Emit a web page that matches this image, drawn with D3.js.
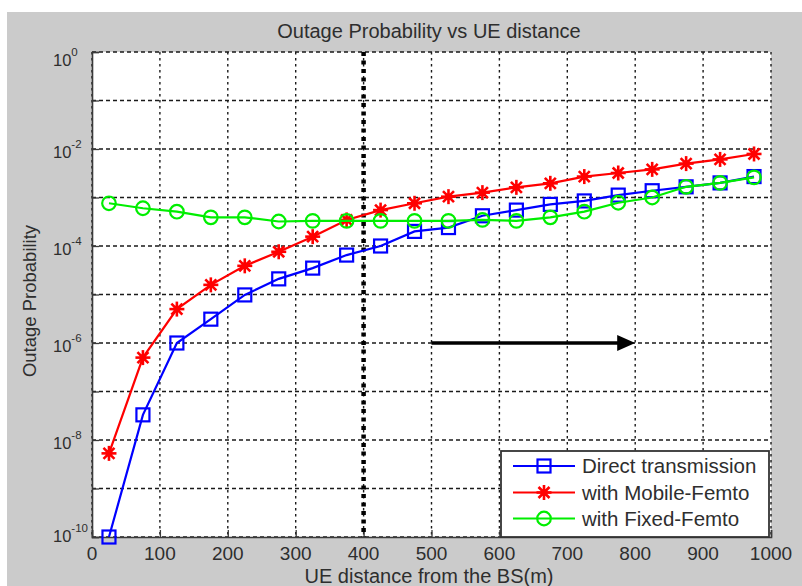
<!DOCTYPE html>
<html>
<head>
<meta charset="utf-8">
<script src="https://cdn.jsdelivr.net/npm/d3@7"></script>
<style>
  html, body { margin: 0; padding: 0; background: #ffffff; }
  svg { display: block; }
  text { font-family: "Liberation Sans", Arial, sans-serif; fill: #2e2e2e; }
</style>
</head>
<body>
<script>
// ---------------- data ----------------
const distances = [25, 75, 125, 175, 225, 275, 325, 375, 425, 475, 525, 575, 625, 675, 725, 775, 825, 875, 925, 975];
const directTransmission = [1e-10, 3.3e-8, 1e-6, 3.1e-6, 9.8e-6, 2.1e-5, 3.5e-5, 6.5e-5, 1.0e-4, 2.0e-4, 2.4e-4, 4.2e-4, 5.5e-4, 7.2e-4, 8.5e-4, 1.12e-3, 1.38e-3, 1.66e-3, 2.0e-3, 2.7e-3];
const mobileFemto = [5.3e-9, 5e-7, 5.0e-6, 1.58e-5, 3.9e-5, 7.6e-5, 1.56e-4, 3.45e-4, 5.5e-4, 7.6e-4, 1.04e-3, 1.26e-3, 1.62e-3, 1.96e-3, 2.7e-3, 3.2e-3, 3.8e-3, 5.0e-3, 6.1e-3, 7.9e-3];
const fixedFemto = [7.6e-4, 6.0e-4, 5.1e-4, 3.9e-4, 3.9e-4, 3.2e-4, 3.3e-4, 3.3e-4, 3.3e-4, 3.3e-4, 3.3e-4, 3.45e-4, 3.3e-4, 3.9e-4, 5.1e-4, 7.8e-4, 1.0e-3, 1.66e-3, 2.0e-3, 2.6e-3];
const seriesNames = ["Direct transmission", "with Mobile-Femto", "with Fixed-Femto"];
const xTicks = [0, 100, 200, 300, 400, 500, 600, 700, 800, 900, 1000];
const yLabelExponents = [0, -2, -4, -6, -8, -10];
const yGridExponents = [0, -1, -2, -3, -4, -5, -6, -7, -8, -9, -10];
const markerLineX = 400;          // thick dotted vertical marker
const arrowFrom = [500, 1e-6];    // arrow start (x, y)
const arrowTo = [800, 1e-6];      // arrow end (x, y)
const titleText = "Outage Probability vs UE distance";
const xLabelText = "UE distance from the BS(m)";
const yLabelText = "Outage Probability";

// ---------------- layout ----------------
const W = 802, H = 586;
const plot = { left: 92, right: 771, top: 52, bottom: 537 };

const svg = d3.select("body").append("svg").attr("width", W).attr("height", H);

// gray figure background
svg.append("rect").attr("x", 7).attr("y", 12).attr("width", W - 7).attr("height", H - 12).attr("fill", "#cbcbcb");

const x = d3.scaleLinear().domain([0, 1000]).range([plot.left, plot.right]);
const y = d3.scaleLog().domain([1e-10, 1]).range([plot.bottom, plot.top]);

// plot area
svg.append("rect").attr("x", plot.left).attr("y", plot.top)
  .attr("width", plot.right - plot.left).attr("height", plot.bottom - plot.top).attr("fill", "#ffffff");

// grid
const grid = svg.append("g");
grid.selectAll("line.v").data(xTicks).join("line")
  .attr("x1", d => x(d)).attr("x2", d => x(d))
  .attr("y1", plot.top).attr("y2", plot.bottom)
  .attr("stroke", "#1a1a1a").attr("stroke-width", 1.4).attr("stroke-dasharray", "2.5,3.5");
grid.selectAll("line.h").data(yGridExponents).join("line")
  .attr("x1", plot.left).attr("x2", plot.right)
  .attr("y1", d => y(Math.pow(10, d))).attr("y2", d => y(Math.pow(10, d)))
  .attr("stroke", "#1a1a1a").attr("stroke-width", 1.4).attr("stroke-dasharray", "4,3");

// axes (solid left and bottom) via d3 axes
const xAxis = d3.axisBottom(x).tickValues(xTicks).tickSize(-7).tickFormat("");
const gx = svg.append("g").attr("transform", `translate(0,${plot.bottom})`).call(xAxis);
gx.select(".domain").attr("stroke", "#3a3a3a").attr("stroke-width", 1.6);
gx.selectAll(".tick line").attr("stroke", "#3a3a3a").attr("stroke-width", 1.3);

const yAxis = d3.axisLeft(y).tickValues(yGridExponents.map(e => Math.pow(10, e))).tickSize(-7).tickFormat("");
const gy = svg.append("g").attr("transform", `translate(${plot.left},0)`).call(yAxis);
gy.select(".domain").attr("stroke", "#3a3a3a").attr("stroke-width", 1.6);
gy.selectAll(".tick line").attr("stroke", "#3a3a3a").attr("stroke-width", 1.3);

// x tick labels
svg.append("g").selectAll("text").data(xTicks).join("text")
  .attr("x", d => x(d)).attr("y", 560)
  .attr("text-anchor", "middle").attr("font-size", 19)
  .text(d => d);

// y tick labels (10^k); end labels nudged like the original figure
const yl = svg.append("g").selectAll("text").data(yLabelExponents).join("text")
  .attr("x", 53).attr("y", (d, i) => y(Math.pow(10, d)) + (i === 0 ? 14 : (i === yLabelExponents.length - 1 ? 5 : 9)))
  .attr("font-size", 16.5);
yl.append("tspan").text("10");
yl.append("tspan").attr("dy", -10).attr("font-size", 11.5).text(d => d);

// thick dotted vertical marker
svg.append("line")
  .attr("x1", x(markerLineX)).attr("x2", x(markerLineX))
  .attr("y1", plot.top).attr("y2", plot.bottom)
  .attr("stroke", "#000").attr("stroke-width", 4.5).attr("stroke-dasharray", "4,4.5");

// series
const series = [
  { name: seriesNames[0], values: directTransmission, color: "#0000ff", marker: "square" },
  { name: seriesNames[1], values: mobileFemto, color: "#ff0000", marker: "star" },
  { name: seriesNames[2], values: fixedFemto, color: "#00ee00", marker: "circle" }
];

function drawMarker(g, type, color) {
  if (type === "square") {
    g.append("rect").attr("x", -6.5).attr("y", -6.5).attr("width", 13).attr("height", 13)
      .attr("fill", "none").attr("stroke", color).attr("stroke-width", 2.2);
  } else if (type === "circle") {
    g.append("circle").attr("r", 6.8).attr("fill", "none").attr("stroke", color).attr("stroke-width", 2.2);
  } else {
    const s = 7.5, d = 5.5;
    [[-s, 0, s, 0], [0, -s, 0, s], [-d, -d, d, d], [-d, d, d, -d]].forEach(c => {
      g.append("line").attr("x1", c[0]).attr("y1", c[1]).attr("x2", c[2]).attr("y2", c[3])
        .attr("stroke", color).attr("stroke-width", 2.6);
    });
    g.append("circle").attr("r", 3.5).attr("fill", color);
  }
}

const line = d3.line().x(d => x(d[0])).y(d => y(d[1]));
series.forEach(s => {
  const pts = distances.map((dx, i) => [dx, s.values[i]]);
  svg.append("path").datum(pts).attr("d", line)
    .attr("fill", "none").attr("stroke", s.color).attr("stroke-width", 2.2);
  svg.append("g").selectAll("g").data(pts).join("g")
    .attr("transform", d => `translate(${x(d[0])},${y(d[1])})`)
    .each(function () { drawMarker(d3.select(this), s.marker, s.color); });
});

// arrow
svg.append("line")
  .attr("x1", x(arrowFrom[0])).attr("y1", y(arrowFrom[1]))
  .attr("x2", x(arrowTo[0]) - 8).attr("y2", y(arrowTo[1]))
  .attr("stroke", "#000").attr("stroke-width", 3.5);
svg.append("path")
  .attr("d", d3.line()([[x(arrowTo[0]) - 18, y(arrowTo[1]) - 8], [x(arrowTo[0]), y(arrowTo[1])], [x(arrowTo[0]) - 18, y(arrowTo[1]) + 8]]) + "Z")
  .attr("fill", "#000");

// legend
const lg = svg.append("g");
lg.append("rect").attr("x", 501).attr("y", 451).attr("width", 268).attr("height", 86)
  .attr("fill", "#ffffff").attr("stroke", "#333").attr("stroke-width", 1.8);
const rowY = [466, 492.5, 518.5];
series.forEach((s, i) => {
  lg.append("line").attr("x1", 513).attr("x2", 575).attr("y1", rowY[i]).attr("y2", rowY[i])
    .attr("stroke", s.color).attr("stroke-width", 2.2);
  const m = lg.append("g").attr("transform", `translate(544,${rowY[i]})`);
  drawMarker(m, s.marker, s.color);
  lg.append("text").attr("x", 582).attr("y", rowY[i] + 7).attr("font-size", 20.5).text(s.name);
});

// title and axis labels
svg.append("text").attr("x", 429).attr("y", 38).attr("text-anchor", "middle").attr("font-size", 20).text(titleText);
svg.append("text").attr("x", 429).attr("y", 583).attr("text-anchor", "middle").attr("font-size", 20).text(xLabelText);
svg.append("text").attr("transform", "translate(36,301) rotate(-90)").attr("text-anchor", "middle")
  .attr("font-size", 18.5).text(yLabelText);
</script>
</body>
</html>
